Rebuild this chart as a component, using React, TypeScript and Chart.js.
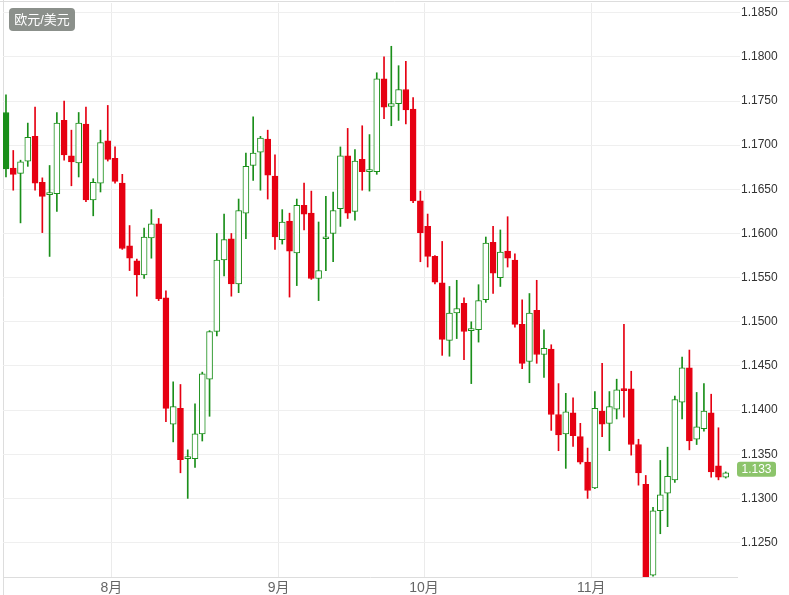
import React, { useEffect, useRef } from 'react';
import { Chart, registerables } from 'chart.js';

Chart.register(...registerables);

// ---- data ----
const PAIR_LABEL = '欧元/美元';
const MONTH_LABELS = ['8月', '9月', '10月', '11月'];
// index of the first candle of each month
const MONTH_START_INDEX = [15, 38, 58, 81];
const Y_TICKS = [1.125, 1.13, 1.135, 1.14, 1.145, 1.15, 1.155, 1.16, 1.165, 1.17, 1.175, 1.18, 1.185];
const PREV_CLOSE = 1.166; // close before the first candle shown
const LAST_PRICE = 1.1333;

const OPEN = [
  1.1737, 1.1674, 1.1668, 1.1682, 1.1710, 1.1658, 1.1644, 1.1645, 1.1728, 1.1688,
  1.1680, 1.1724, 1.1638, 1.1657, 1.1705, 1.1685, 1.1657, 1.1586, 1.1569, 1.1553,
  1.1595, 1.1611, 1.1527, 1.1384, 1.1402, 1.1345, 1.1345, 1.1373, 1.1435, 1.1489,
  1.1570, 1.1594, 1.1543, 1.1623, 1.1677, 1.1692, 1.1707, 1.1665, 1.1593, 1.1614,
  1.1578, 1.1632, 1.1623, 1.1549, 1.1594, 1.1600, 1.1628, 1.1688, 1.1625, 1.1684,
  1.1670, 1.1670, 1.1775, 1.1744, 1.1747, 1.1763, 1.1741, 1.1637, 1.1608, 1.1574,
  1.1544, 1.1479, 1.1510, 1.1521, 1.1490, 1.1491, 1.1525, 1.1590, 1.1550, 1.1580,
  1.1570, 1.1497, 1.1455, 1.1513, 1.1463, 1.1469, 1.1395, 1.1373, 1.1397, 1.1370,
  1.1341, 1.1312, 1.1399, 1.1385, 1.1401, 1.1423, 1.1424, 1.1361, 1.1316, 1.1213,
  1.1286, 1.1306, 1.1321, 1.1409, 1.1448, 1.1367, 1.1379, 1.1397, 1.1337, 1.1324,
];
const HIGH = [
  1.1757, 1.1694, 1.1683, 1.1725, 1.1743, 1.1663, 1.1677, 1.1737, 1.1750, 1.1717,
  1.1737, 1.1743, 1.1662, 1.1717, 1.1745, 1.1698, 1.1667, 1.1609, 1.1571, 1.1606,
  1.1627, 1.1617, 1.1535, 1.1432, 1.1429, 1.1355, 1.1407, 1.1443, 1.1490, 1.1600,
  1.1622, 1.1600, 1.1639, 1.1691, 1.1732, 1.1710, 1.1717, 1.1689, 1.1627, 1.1623,
  1.1639, 1.1657, 1.1648, 1.1613, 1.1642, 1.1647, 1.1698, 1.1719, 1.1695, 1.1722,
  1.1712, 1.1782, 1.1800, 1.1812, 1.1790, 1.1795, 1.1754, 1.1648, 1.1622, 1.1575,
  1.1591, 1.1540, 1.1547, 1.1527, 1.1500, 1.1542, 1.1596, 1.1608, 1.1604, 1.1619,
  1.1577, 1.1525, 1.1532, 1.1547, 1.1491, 1.1474, 1.1430, 1.1419, 1.1414, 1.1385,
  1.1357, 1.1421, 1.1453, 1.1421, 1.1435, 1.1497, 1.1444, 1.1367, 1.1326, 1.1290,
  1.1343, 1.1358, 1.1416, 1.1460, 1.1468, 1.1420, 1.1430, 1.1418, 1.1380, 1.1330,
];
const LOW = [
  1.1664, 1.1649, 1.1612, 1.1676, 1.1649, 1.1601, 1.1574, 1.1625, 1.1683, 1.1654,
  1.1664, 1.1636, 1.1620, 1.1647, 1.1682, 1.1657, 1.1582, 1.1558, 1.1529, 1.1549,
  1.1572, 1.1524, 1.1387, 1.1364, 1.1329, 1.1300, 1.1335, 1.1365, 1.1393, 1.1484,
  1.1552, 1.1529, 1.1533, 1.1594, 1.1660, 1.1649, 1.1639, 1.1582, 1.1588, 1.1528,
  1.1541, 1.1604, 1.1548, 1.1524, 1.1558, 1.1568, 1.1608, 1.1617, 1.1615, 1.1649,
  1.1648, 1.1667, 1.1730, 1.1722, 1.1728, 1.1724, 1.1635, 1.1568, 1.1562, 1.1543,
  1.1462, 1.1461, 1.1481, 1.1457, 1.1430, 1.1477, 1.1522, 1.1532, 1.1540, 1.1562,
  1.1494, 1.1447, 1.1431, 1.1453, 1.1437, 1.1377, 1.1354, 1.1334, 1.1359, 1.1339,
  1.1300, 1.1311, 1.1370, 1.1354, 1.1390, 1.1392, 1.1349, 1.1315, 1.1208, 1.1212,
  1.1260, 1.1268, 1.1318, 1.1390, 1.1355, 1.1361, 1.1376, 1.1324, 1.1321, 1.1323,
];
const CLOSE = [
  1.1673, 1.1667, 1.1681, 1.1709, 1.1657, 1.1642, 1.1644, 1.1725, 1.1689, 1.1681,
  1.1725, 1.1638, 1.1658, 1.1703, 1.1684, 1.1659, 1.1583, 1.1572, 1.1553, 1.1596,
  1.1611, 1.1526, 1.1402, 1.1404, 1.1344, 1.1345, 1.1373, 1.1441, 1.1489, 1.1570,
  1.1593, 1.1543, 1.1626, 1.1676, 1.1691, 1.1708, 1.1666, 1.1596, 1.1613, 1.1580,
  1.1632, 1.1622, 1.1549, 1.1558, 1.1596, 1.1626, 1.1688, 1.1623, 1.1682, 1.1670,
  1.1670, 1.1775, 1.1743, 1.1747, 1.1763, 1.1740, 1.1637, 1.1601, 1.1574, 1.1545,
  1.1480, 1.1510, 1.1515, 1.1489, 1.1490, 1.1524, 1.1589, 1.1555, 1.1579, 1.1572,
  1.1497, 1.1453, 1.1510, 1.1463, 1.1470, 1.1395, 1.1372, 1.1398, 1.1371, 1.1341,
  1.1309, 1.1402, 1.1384, 1.1404, 1.1423, 1.1422, 1.1361, 1.1329, 1.1210, 1.1286,
  1.1304, 1.1325, 1.1412, 1.1448, 1.1365, 1.1381, 1.1399, 1.1330, 1.1324, 1.1329,
];

// ---- styles ----
const RED = '#e60012';
const GREEN = '#1a8f1a';
const FONT = "Arial, 'Liberation Sans', 'Noto Sans CJK SC', sans-serif";

export default function App() {
  const canvasRef = useRef<HTMLCanvasElement | null>(null);

  useEffect(() => {
    document.body.style.margin = '0';
    const canvas = canvasRef.current;
    if (!canvas) return;

    const idx = OPEN.map((_, i) => i);
    const isUp = (i: number) => CLOSE[i] >= (i === 0 ? PREV_CLOSE : CLOSE[i - 1]);
    const isHollow = (i: number) => CLOSE[i] >= OPEN[i];
    const colors = idx.map((i) => (isUp(i) ? GREEN : RED));

    const bodyData = idx.map((i) => ({ x: i, y: [OPEN[i], CLOSE[i]] }));
    const wickData = idx.map((i) => ({ x: i, y: [LOW[i], HIGH[i]] }));

    const decor = {
      id: 'decor',
      beforeDraw(chart: any) {
        const { ctx, chartArea, width, height } = chart;
        ctx.save();
        ctx.strokeStyle = '#dddddd';
        ctx.lineWidth = 1;
        ctx.beginPath();
        ctx.moveTo(0, 1.5);
        ctx.lineTo(width, 1.5);
        ctx.moveTo(chartArea.left + 0.5, 0);
        ctx.lineTo(chartArea.left + 0.5, height);
        ctx.stroke();
        ctx.restore();
      },
      afterDraw(chart: any) {
        const { ctx, chartArea } = chart;
        const yScale = chart.scales.y;
        ctx.save();
        // pair label
        ctx.fillStyle = '#8b908b';
        ctx.beginPath();
        (ctx as any).roundRect(9, 8, 66, 23, 4);
        ctx.fill();
        ctx.fillStyle = '#ffffff';
        ctx.font = `13px ${FONT}`;
        ctx.textAlign = 'center';
        ctx.textBaseline = 'middle';
        ctx.fillText(PAIR_LABEL, 42, 20);
        // last price badge
        const py = yScale.getPixelForValue(LAST_PRICE);
        ctx.fillStyle = '#8cc46b';
        ctx.beginPath();
        (ctx as any).roundRect(chartArea.right, py - 7.5, 39, 15, 3);
        ctx.fill();
        ctx.fillStyle = '#ffffff';
        ctx.font = `12px ${FONT}`;
        ctx.fillText(LAST_PRICE.toFixed(3), chartArea.right + 19.5, py + 0.5);
        ctx.restore();
      },
    };

    const chart = new Chart(canvas, {
      type: 'bar',
      data: {
        datasets: [
          {
            label: 'body',
            data: bodyData as any,
            backgroundColor: idx.map((i) => (isHollow(i) ? '#ffffff' : colors[i])),
            borderColor: colors,
            borderWidth: 1,
            borderSkipped: false,
            barThickness: 6,
            minBarLength: 2,
            grouped: false,
            order: 0,
          } as any,
          {
            label: 'wick',
            data: wickData as any,
            backgroundColor: colors,
            borderWidth: 0,
            barThickness: 1,
            grouped: false,
            order: 1,
          } as any,
        ],
      },
      options: {
        animation: false,
        responsive: true,
        maintainAspectRatio: false,
        layout: { padding: { left: 3, top: 3, right: 0, bottom: 0 } },
        plugins: { legend: { display: false }, tooltip: { enabled: false } },
        scales: {
          x: {
            type: 'linear',
            min: -0.41,
            max: 100.55,
            offset: false,
            grid: { color: '#ebebeb', drawTicks: false, lineWidth: 1, offset: false },
            border: { display: true, color: '#dddddd' },
            ticks: {
              autoSkip: false,
              maxRotation: 0,
              padding: 3,
              color: '#666666',
              font: { size: 14, family: FONT },
              callback: (_v: any, i: number) => MONTH_LABELS[i],
            },
            afterBuildTicks: (s: any) => {
              s.ticks = MONTH_START_INDEX.map((m) => ({ value: m - 0.5 }));
            },
            afterFit: (s: any) => {
              s.height = 18;
              s.paddingLeft = 0;
              s.paddingRight = 0;
            },
          },
          y: {
            type: 'linear',
            position: 'right',
            min: 1.1211,
            max: 1.1861,
            grid: { color: '#efefef', tickLength: 3, lineWidth: 1 },
            border: { display: false },
            ticks: {
              padding: 1,
              color: '#333333',
              font: { size: 12, family: FONT },
              callback: (v: any) => Number(v).toFixed(4),
            },
            afterBuildTicks: (s: any) => {
              s.ticks = Y_TICKS.map((v) => ({ value: v }));
            },
            afterFit: (s: any) => {
              s.width = 52;
              s.paddingTop = 0;
              s.paddingBottom = 0;
            },
          },
        },
      } as any,
      plugins: [decor],
    });

    return () => chart.destroy();
  }, []);

  return (
    <div style={{ position: 'relative', width: 789, height: 595, background: '#ffffff' }}>
      <canvas ref={canvasRef} />
    </div>
  );
}
